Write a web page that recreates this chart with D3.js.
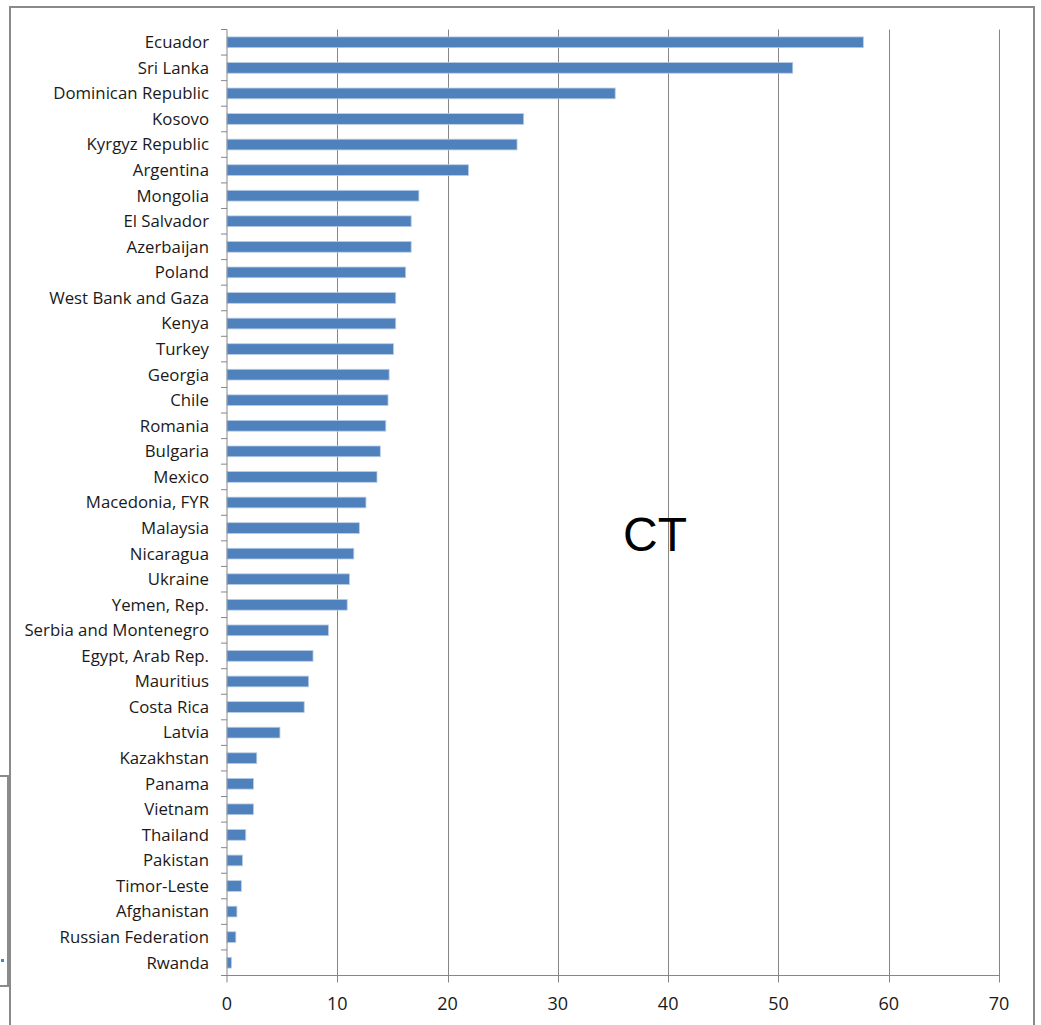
<!DOCTYPE html>
<html>
<head>
<meta charset="utf-8">
<script src="https://cdn.jsdelivr.net/npm/d3@7"></script>
<style>
  html, body { margin: 0; padding: 0; background: #fff; }
  svg { display: block; }
</style>
</head>
<body>
<svg id="chart" width="1041" height="1025"></svg>
<script>
// Countries, top to bottom
const countries = [
  "Ecuador", "Sri Lanka", "Dominican Republic", "Kosovo", "Kyrgyz Republic",
  "Argentina", "Mongolia", "El Salvador", "Azerbaijan", "Poland",
  "West Bank and Gaza", "Kenya", "Turkey", "Georgia", "Chile",
  "Romania", "Bulgaria", "Mexico", "Macedonia, FYR", "Malaysia",
  "Nicaragua", "Ukraine", "Yemen, Rep.", "Serbia and Montenegro", "Egypt, Arab Rep.",
  "Mauritius", "Costa Rica", "Latvia", "Kazakhstan", "Panama",
  "Vietnam", "Thailand", "Pakistan", "Timor-Leste", "Afghanistan",
  "Russian Federation", "Rwanda"
];

// CT value per country
const ctValues = [
  57.7, 51.3, 35.2, 26.9, 26.3,
  21.9, 17.4, 16.7, 16.7, 16.2,
  15.3, 15.3, 15.1, 14.7, 14.6,
  14.4, 13.9, 13.6, 12.6, 12.0,
  11.5, 11.1, 10.9, 9.2, 7.8,
  7.4, 7.0, 4.8, 2.7, 2.4,
  2.4, 1.7, 1.4, 1.3, 0.9,
  0.8, 0.4
];

const xTicks = [0, 10, 20, 30, 40, 50, 60, 70];
const chartTitle = "CT";

const svg = d3.select("#chart");
const font = "'Open Sans', 'Noto Sans', sans-serif";

const plot = { left: 227, right: 999, top: 29.5, bottom: 975.5 };

const x = d3.scaleLinear().domain([0, 70]).range([plot.left, plot.right]);
const y = d3.scaleBand().domain(countries).range([plot.top, plot.bottom]).paddingInner(0.58).paddingOuter(0.29);

// neighbouring panel frame at the left edge
svg.append("rect")
  .attr("x", -2).attr("y", 776).attr("width", 10).attr("height", 210)
  .attr("fill", "none").attr("stroke", "#8a8a8a").attr("stroke-width", 2);
svg.append("rect")
  .attr("x", 1).attr("y", 959).attr("width", 3).attr("height", 3)
  .attr("fill", "#4f81bd");

// chart frame
svg.append("rect")
  .attr("x", 10).attr("y", 7).attr("width", 1024).attr("height", 1040)
  .attr("fill", "#fff").attr("stroke", "#8a8a8a").attr("stroke-width", 2);

// vertical gridlines (extend below the axis as ticks)
svg.append("g").selectAll("line")
  .data(xTicks.slice(1))
  .join("line")
  .attr("x1", d => Math.round(x(d)) + 0.5).attr("x2", d => Math.round(x(d)) + 0.5)
  .attr("y1", plot.top).attr("y2", plot.bottom + 7)
  .attr("stroke", "#868686").attr("stroke-width", 1);

// bars
svg.append("g").selectAll("rect")
  .data(countries.map((c, i) => ({ c, v: ctValues[i] })))
  .join("rect")
  .attr("x", x(0))
  .attr("y", d => y(d.c))
  .attr("width", d => x(d.v) - x(0))
  .attr("height", y.bandwidth())
  .attr("fill", "#4f81bd")
  .attr("stroke", "#b9cde5").attr("stroke-width", 0.8);

// y axis with category ticks between rows
const yAxis = svg.append("g").attr("transform", `translate(${plot.left},0)`);
yAxis.append("line")
  .attr("x1", 0).attr("x2", 0).attr("y1", plot.top).attr("y2", plot.bottom + 7)
  .attr("stroke", "#868686");
yAxis.selectAll("line.tick")
  .data(d3.range(countries.length + 1))
  .join("line").attr("class", "tick")
  .attr("x1", -6).attr("x2", 0)
  .attr("y1", i => plot.top + i * (plot.bottom - plot.top) / countries.length)
  .attr("y2", i => plot.top + i * (plot.bottom - plot.top) / countries.length)
  .attr("stroke", "#868686");
yAxis.selectAll("text")
  .data(countries)
  .join("text")
  .attr("x", -18)
  .attr("y", d => y(d) + y.bandwidth() / 2)
  .attr("dy", "0.35em")
  .attr("text-anchor", "end")
  .attr("font-family", font).attr("font-size", 16.8)
  .attr("fill", "#1a1a1a")
  .text(d => d);

// x axis
const xAxis = svg.append("g").attr("transform", `translate(0,${plot.bottom})`);
xAxis.append("line")
  .attr("x1", plot.left).attr("x2", plot.right)
  .attr("stroke", "#868686");
xAxis.selectAll("text")
  .data(xTicks)
  .join("text")
  .attr("x", d => x(d))
  .attr("y", 28)
  .attr("dy", "0.35em")
  .attr("text-anchor", "middle")
  .attr("font-family", font).attr("font-size", 18)
  .attr("fill", "#1a1a1a")
  .text(d => d);

// series label
svg.append("text")
  .attr("x", 655).attr("y", 551)
  .attr("text-anchor", "middle")
  .attr("font-family", "'Liberation Sans', Arial, sans-serif")
  .attr("font-size", 48)
  .attr("fill", "#000")
  .text(chartTitle);
</script>
</body>
</html>
